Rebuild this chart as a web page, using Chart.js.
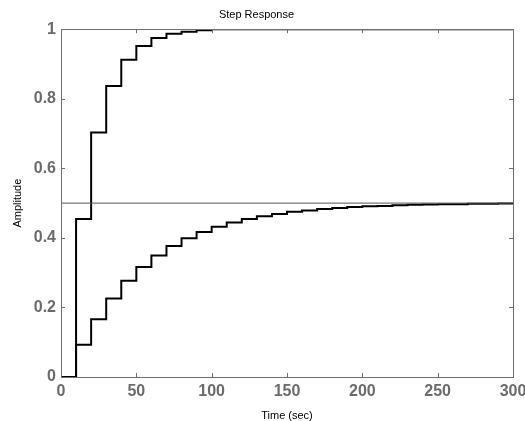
<!DOCTYPE html>
<html>
<head>
<meta charset="utf-8">
<script src="https://cdn.jsdelivr.net/npm/chart.js@4"></script>
<style>
  html, body { margin: 0; padding: 0; background: #fff; overflow: hidden; }
  #wrap { width: 545px; height: 421px; position: relative; }
</style>
</head>
<body>
<div id="wrap"><canvas id="myChart" width="545" height="421"></canvas></div>
<script>
// sample times (sec) of the step response
const stepTimes = [0, 10, 20, 30, 40, 50, 60, 70, 80, 90, 100, 110, 120, 130, 140, 150,
  160, 170, 180, 190, 200, 210, 220, 230, 240, 250, 260, 270, 280, 290, 300];
// fast loop, settles at 1
const fastResponse = [0, 0.454, 0.703, 0.837, 0.912, 0.952, 0.975, 0.987, 0.993, 0.997, 1,
  1, 1, 1, 1, 1, 1, 1, 1, 1, 1, 1, 1, 1, 1, 1, 1, 1, 1, 1, 1];
// slow loop, settles at 0.5
const slowResponse = [0, 0.093, 0.166, 0.226, 0.277, 0.316, 0.349, 0.377, 0.399, 0.417, 0.432,
  0.444, 0.454, 0.462, 0.469, 0.475, 0.479, 0.483, 0.486, 0.489, 0.491, 0.492, 0.494, 0.495,
  0.496, 0.497, 0.497, 0.498, 0.498, 0.499, 0.499];
const finalValue = 0.5;
const xTicks = [0, 50, 100, 150, 200, 250, 300];
const yTicks = [0, 0.2, 0.4, 0.6, 0.8, 1];

function toPoints(xs, ys) {
    let pts = [];
    xs.forEach((x, i) => pts.push({x: x, y: ys[i]}));
    return pts;
}

// box round the plot + inward ticks on every side
const boxTicks = {
    id: 'boxTicks',
    afterDraw(chart) {
        const ctx = chart.ctx, a = chart.chartArea;
        const sx = chart.scales.x, sy = chart.scales.y;
        ctx.save();
        ctx.strokeStyle = '#6e6e6e';
        ctx.lineWidth = 1;
        ctx.strokeRect(Math.round(a.left) + 0.5, Math.round(a.top) + 0.5,
            Math.round(a.right - a.left), Math.round(a.bottom - a.top));
        ctx.beginPath();
        xTicks.forEach(v => {
            const px = Math.round(sx.getPixelForValue(v)) + 0.5;
            ctx.moveTo(px, a.bottom); ctx.lineTo(px, a.bottom - 4);
            ctx.moveTo(px, a.top); ctx.lineTo(px, a.top + 4);
        });
        yTicks.forEach(v => {
            const py = Math.round(sy.getPixelForValue(v)) + 0.5;
            ctx.moveTo(a.left, py); ctx.lineTo(a.left + 4, py);
            ctx.moveTo(a.right, py); ctx.lineTo(a.right - 4, py);
        });
        ctx.stroke();
        ctx.restore();
    }
};

var ctx = document.getElementById('myChart').getContext('2d');
var myChart = new Chart(ctx, {
    type: 'line',
    data: {
        datasets: [{
            data: toPoints([0, 300], [finalValue, finalValue]),
            borderColor: '#555555',
            borderWidth: 1,
            pointRadius: 0
        }, {
            data: toPoints(stepTimes, fastResponse),
            borderColor: '#000000',
            borderWidth: 2,
            pointRadius: 0,
            stepped: 'before',
            clip: 0
        }, {
            data: toPoints(stepTimes, slowResponse),
            borderColor: '#000000',
            borderWidth: 2,
            pointRadius: 0,
            stepped: 'before'
        }]
    },
    options: {
        responsive: false,
        animation: false,
        events: [],
        layout: { padding: { left: 0, right: 32, top: 0, bottom: 0 } },
        plugins: {
            legend: { display: false },
            tooltip: { enabled: false },
            title: {
                display: true,
                text: 'Step Response',
                color: '#000',
                font: { family: 'Liberation Sans, Arial', size: 11, weight: 'normal' },
                padding: { top: 8, bottom: 8 }
            }
        },
        scales: {
            x: {
                type: 'linear',
                min: 0, max: 300,
                afterFit: s => { s.height = 44; },
                afterBuildTicks: s => { s.ticks = xTicks.map(v => ({value: v})); },
                grid: { display: false, drawTicks: false },
                border: { display: false },
                ticks: {
                    color: '#6b6b6b',
                    padding: 5,
                    maxRotation: 0,
                    callback: v => '' + v,
                    font: { family: 'Liberation Sans, Arial', size: 16, weight: 'bold' }
                },
                title: {
                    display: true,
                    text: 'Time (sec)',
                    color: '#000',
                    padding: { top: 4, bottom: -2 },
                    font: { family: 'Liberation Sans, Arial', size: 11 }
                }
            },
            y: {
                type: 'linear',
                min: 0, max: 1,
                afterFit: s => { s.width = 61; },
                afterBuildTicks: s => { s.ticks = yTicks.map(v => ({value: v})); },
                grid: { display: false, drawTicks: false },
                border: { display: false },
                ticks: {
                    color: '#6b6b6b',
                    padding: 5,
                    callback: v => '' + v,
                    font: { family: 'Liberation Sans, Arial', size: 16, weight: 'bold' }
                },
                title: {
                    display: true,
                    text: 'Amplitude',
                    color: '#000',
                    padding: { top: 11, bottom: 0 },
                    font: { family: 'Liberation Sans, Arial', size: 11 }
                }
            }
        }
    },
    plugins: [boxTicks]
});
</script>
</body>
</html>
